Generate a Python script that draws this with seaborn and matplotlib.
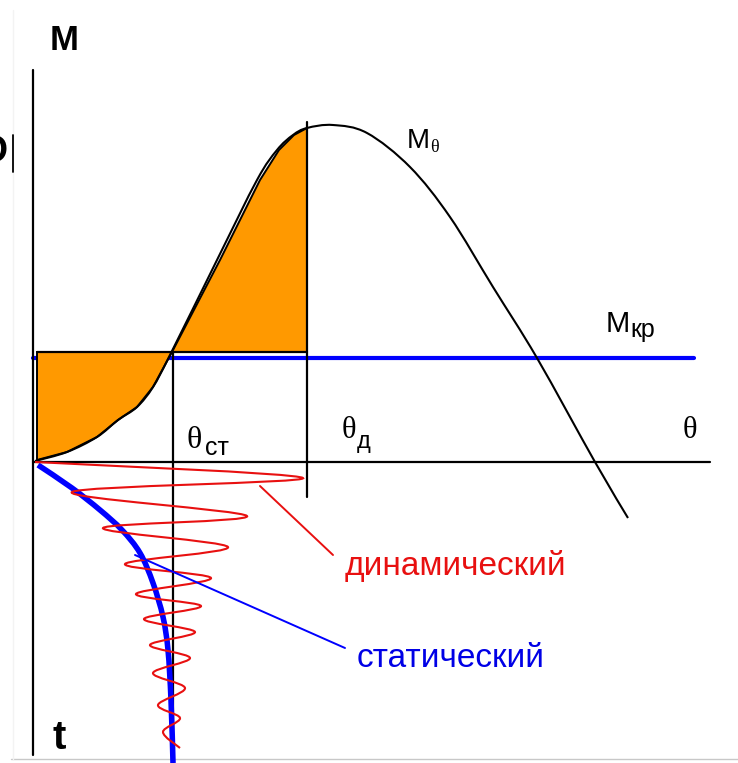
import numpy as np
import pandas as pd
import matplotlib
matplotlib.use("Agg")
import matplotlib.pyplot as plt
from matplotlib.path import Path
from matplotlib.patches import PathPatch, Polygon
import seaborn as sns

# Righting-moment diagram: heel angle θ to the right, moment M upward,
# time t downward below the θ axis.

# Righting moment curve M(θ)
m_theta_x = [2, 34, 64, 85, 104, 120, 137, 184, 224, 244, 260, 274, 300, 334, 377, 417, 460, 504, 562, 595]
m_theta_y = [1, 10, 25, 42, 55, 75, 107, 202, 282, 312, 327, 334, 337, 329, 295, 245, 175, 104, 0, -56]

# Heeling moment level and characteristic angles
m_kr = 104
area_top = 110
theta_st = 140
theta_d = 274
theta_axis_end = 677
m_kr_end = 661

# Static heel vs time (θ, -t)
static_theta = [5, 39, 67, 89, 107, 120, 130, 135, 138, 140]
static_t = [-3, -26, -48, -68, -91, -121, -155, -188, -238, -301]

# Dynamic heel vs time: turning points of the damped swing (θ, -t)
dyn_theta = [2, 270, 39, 214, 70, 195, 92, 178, 103, 168, 111, 162, 117, 157, 120, 152, 125, 147, 130, 147]
dyn_t = [0, -16, -30, -54, -66, -85, -102, -116, -132, -144, -157, -170, -183, -196, -211, -226, -243, -256, -270, -286]

# Fill areas (work of heeling moment below / above the curve)
area1_theta = [4, 4, 34, 64, 85, 104, 120, 139]
area1_m = [110, 2, 10, 25, 42, 55, 75, 110]
area2_theta = [139, 187, 227, 246, 261, 274, 274]
area2_m = [110, 202, 282, 312, 327, 334, 110]

ORANGE = "#FF9900"
BLUE = "#0000FF"
RED = "#E81010"

sns.set_style("white")
plt.rcParams["font.family"] = ["Liberation Sans", "DejaVu Sans"]
plt.rcParams["text.color"] = "black"

fig = plt.figure(figsize=(7.38, 7.63), dpi=100)
ax = fig.add_axes([0, 0, 1, 1])
ax.set_xlim(-33, 705)
ax.set_ylim(-301, 462)
ax.set_axis_off()


def smooth_path(xs, ys):
    """Catmull-Rom spline through the given points as a cubic Bezier path."""
    pts = np.column_stack([xs, ys]).astype(float)
    n = len(pts)
    verts = [pts[0]]
    codes = [Path.MOVETO]
    for i in range(n - 1):
        p0 = pts[i - 1] if i > 0 else pts[i]
        p1 = pts[i]
        p2 = pts[i + 1]
        p3 = pts[i + 2] if i + 2 < n else pts[i + 1]
        c1 = p1 + (p2 - p0) / 6.0
        c2 = p2 - (p3 - p1) / 6.0
        verts += [c1, c2, p2]
        codes += [Path.CURVE4] * 3
    return Path(verts, codes)


# faint page frame
ax.plot([-22, 705], [-297, -297], color="#c8c8c8", lw=1.0, zorder=0)
ax.plot([-20, -20], [-297, 452], color="#f3f3f3", lw=1.0, zorder=0)

# heeling moment line
mkr_df = pd.DataFrame({"theta": [0, m_kr_end], "M": [m_kr, m_kr]})
sns.lineplot(data=mkr_df, x="theta", y="M", color=BLUE, lw=3.0, ax=ax, zorder=2)

# shaded areas
ax.add_patch(Polygon(np.column_stack([area1_theta, area1_m]), closed=True,
                     facecolor=ORANGE, edgecolor="black", lw=1.4, zorder=3))
ax.add_patch(Polygon(np.column_stack([area2_theta, area2_m]), closed=True,
                     facecolor=ORANGE, edgecolor="black", lw=1.4, zorder=3))
ax.plot([4, theta_d], [area_top, area_top], color="black", lw=1.6, zorder=4)

# axes of the diagram
ax.plot([0, 0], [-293, 392], color="black", lw=1.6, zorder=4)
ax.plot([0, theta_axis_end], [0, 0], color="black", lw=1.6, zorder=4)
ax.plot([theta_st, theta_st], [area_top, -301], color="black", lw=1.6, zorder=4)
ax.plot([theta_d, theta_d], [340, -35], color="black", lw=1.6, zorder=4)

# righting moment curve
ax.add_patch(PathPatch(smooth_path(m_theta_x, m_theta_y), fill=False,
                       edgecolor="black", lw=1.5, zorder=5))

# static heel curve
ax.add_patch(PathPatch(smooth_path(static_theta, static_t), fill=False,
                       edgecolor=BLUE, lw=4.0, capstyle="butt", zorder=6))

# dynamic heel oscillation
ax.add_patch(PathPatch(smooth_path(dyn_theta, dyn_t), fill=False,
                       edgecolor=RED, lw=1.5, zorder=7))

# leader lines
sns.lineplot(x=[227, 300], y=[-24, -93], color=RED, lw=1.4, ax=ax, zorder=7)
sns.lineplot(x=[102, 312], y=[-93, -186], color=BLUE, lw=1.4, ax=ax, zorder=7)

serif = ["Liberation Serif", "DejaVu Serif"]
sans = ["Liberation Sans", "DejaVu Sans"]

ax.text(31, 422, "M", fontsize=25, fontweight="bold", family=sans, ha="center", va="center")
ax.text(26, -276, "t", fontsize=29, fontweight="bold", family=sans, ha="center", va="center")
ax.text(-25, 310, "D", fontsize=27, fontweight="bold", family=sans, ha="right", va="center")
ax.plot([-20, -20], [290, 327], color="black", lw=1.3, zorder=4)

ax.text(657, 32, "θ", fontsize=22, family=serif, ha="center", va="center")

ax.text(154, 21, "θ", fontsize=23, family=serif, ha="left", va="center")
ax.text(172, 7, "ст", fontsize=18, family=sans, ha="left", va="baseline")

ax.text(309, 31, "θ", fontsize=22, family=serif, ha="left", va="center")
ax.text(324, 14, "д", fontsize=17, family=sans, ha="left", va="baseline")

ax.text(374, 314, "M", fontsize=20, family=sans, ha="left", va="baseline")
ax.text(397, 315, "θ", fontsize=13, family=serif, ha="left", va="center")

ax.text(573, 130, "M", fontsize=21, family=sans, ha="left", va="baseline")
ax.text(597, 125, "кр", fontsize=18, family=sans, ha="left", va="baseline")

ax.text(312, -113, "динамический", fontsize=24, family=sans, color=RED,
        ha="left", va="baseline")
ax.text(324, -205, "статический", fontsize=24, family=sans, color="#0000E6",
        ha="left", va="baseline")

fig.savefig("out.png", dpi=100)
